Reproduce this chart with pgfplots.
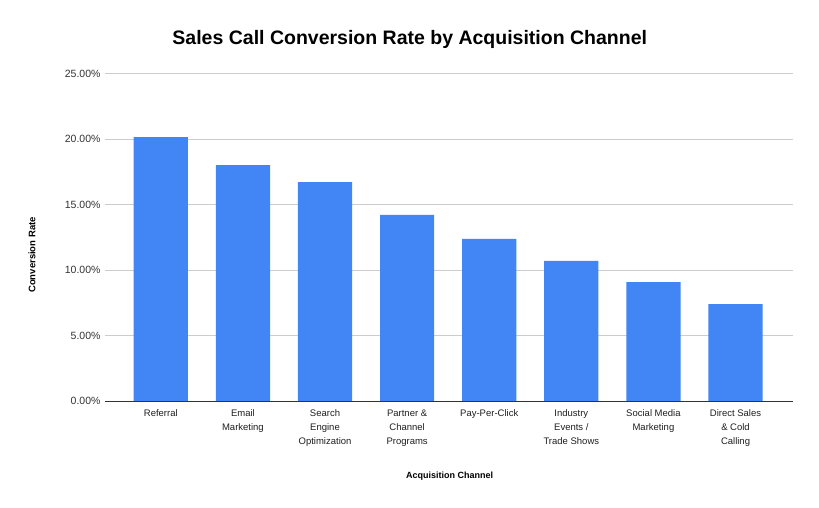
\documentclass[border=0pt]{standalone}
\usepackage{pgfplots}
\pgfplotsset{compat=1.18}
\usepackage{fontspec}
\setmainfont{Liberation Sans}
\definecolor{barblue}{HTML}{4285F4}
\definecolor{gridgray}{HTML}{CCCCCC}
\begin{document}
\begin{tikzpicture}[x=1pt,y=1pt]
\useasboundingbox (0,0) rectangle (819,507);
\begin{axis}[
  at={(105pt,106pt)}, anchor=south west,
  scale only axis, width=688pt, height=327.5pt,
  xmin=-0.68, xmax=7.7, ymin=0, ymax=25,
  axis line style={draw=none},
  ytick={0,5,10,15,20,25},
  yticklabels={0.00\%,5.00\%,10.00\%,15.00\%,20.00\%,25.00\%},
  ymajorgrids, grid style={gridgray, line width=0.8pt},
  xtick={0,1,2,3,4,5,6,7},
  xticklabels={Referral,Email\\Marketing,Search\\Engine\\Optimization,Partner \&\\Channel\\Programs,Pay-Per-Click,Industry\\Events /\\Trade Shows,Social Media\\Marketing,Direct Sales\\\& Cold\\Calling},
  xticklabel style={align=center, font=\fontsize{9.5}{14}\selectfont, text=black!88, yshift=-5pt},
  yticklabel style={font=\fontsize{10.5}{12}\selectfont, text=black!80, xshift=-1pt},
  major tick length=0pt,
  title={\bfseries Sales Call Conversion Rate by Acquisition Channel},
  title style={font=\fontsize{19.5}{22}\selectfont, at={(axis description cs:0.443,1.087)}, anchor=center},
  xlabel={\bfseries Acquisition Channel},
  xlabel style={font=\fontsize{9}{11}\selectfont, at={(axis description cs:0.501,-0.229)}, anchor=center},
  ylabel={\bfseries Conversion Rate},
  ylabel style={font=\fontsize{9.5}{11}\selectfont, at={(axis description cs:-0.106,0.446)}, anchor=center, rotate=0},
  clip=false,
]
\addplot[ybar, bar width=0.66, fill=barblue, draw=none] coordinates {
  (0,20.15) (1,18.0) (2,16.7) (3,14.2) (4,12.37) (5,10.69) (6,9.08) (7,7.4)
};
\draw[black!80, line width=0.8pt] (axis cs:-0.68,0) -- (axis cs:7.7,0);
\end{axis}
\end{tikzpicture}
\end{document}
